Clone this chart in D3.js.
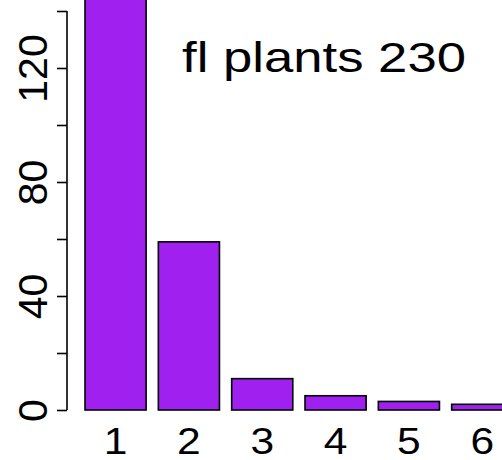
<!DOCTYPE html>
<html>
<head>
<meta charset="utf-8">
<script src="https://cdn.jsdelivr.net/npm/d3@7"></script>
<style>
  html, body { margin: 0; padding: 0; background: #fff; }
  svg { display: block; font-family: "Liberation Sans", Arial, Helvetica, sans-serif; }
</style>
</head>
<body>
<svg id="chart" width="502" height="460"></svg>
<script>
// Flowering plants by count class
const categories = ["1", "2", "3", "4", "5", "6"];
const counts = [150, 59, 11, 5, 3, 2];
const yTicks = [0, 20, 40, 60, 80, 100, 120, 140];
const yLabelTicks = [0, 40, 80, 120];
const titleText = "fl plants " + d3.sum(counts);

const svg = d3.select("#chart");
const barFill = "#A020F0";

// Bar positions follow base-R barplot spacing (gap = 0.2 of bar width)
const x = d3.scaleBand()
  .domain(categories)
  .range([78.9, 518.9])
  .paddingInner(1 / 6)
  .paddingOuter(1 / 12);

const y = d3.scaleLinear().domain([0, 140]).range([410, 11]);

// Bars
svg.append("g")
  .selectAll("rect")
  .data(counts)
  .join("rect")
  .attr("x", (d, i) => x(categories[i]))
  .attr("y", d => y(d))
  .attr("width", x.bandwidth())
  .attr("height", d => y(0) - y(d))
  .attr("fill", barFill)
  .attr("stroke", "#000")
  .attr("stroke-width", 1.6);

// Y axis
const yAxis = d3.axisLeft(y)
  .tickValues(yTicks)
  .tickSize(10)
  .tickSizeOuter(0)
  .tickPadding(10)
  .tickFormat(d => yLabelTicks.includes(d) ? String(d) : "");

const gy = svg.append("g")
  .attr("transform", "translate(67,0)")
  .call(yAxis);
gy.select(".domain").attr("stroke", "#000").attr("stroke-width", 1.6)
  .attr("d", `M0,${y(0)}V${y(140)}`);
gy.selectAll(".tick line").attr("stroke", "#000").attr("stroke-width", 1.6);
gy.selectAll(".tick text")
  .attr("font-size", 41)
  .attr("fill", "#000")
  .attr("text-anchor", "middle")
  .attr("dy", 0)
  .attr("x", 0)
  .attr("transform", "translate(-20,0) rotate(-90)");

// Category labels under the bars
svg.append("g")
  .selectAll("text")
  .data(categories)
  .join("text")
  .attr("transform", d => `translate(${x(d) + x.bandwidth() / 2},454) scale(1.15,1)`)
  .attr("text-anchor", "middle")
  .attr("font-size", 37)
  .attr("fill", "#000")
  .text(d => d);

// Annotation
svg.append("text")
  .attr("x", 182)
  .attr("y", 72)
  .attr("font-size", 42)
  .attr("fill", "#000")
  .attr("textLength", 284)
  .attr("lengthAdjust", "spacingAndGlyphs")
  .text(titleText);
</script>
</body>
</html>
